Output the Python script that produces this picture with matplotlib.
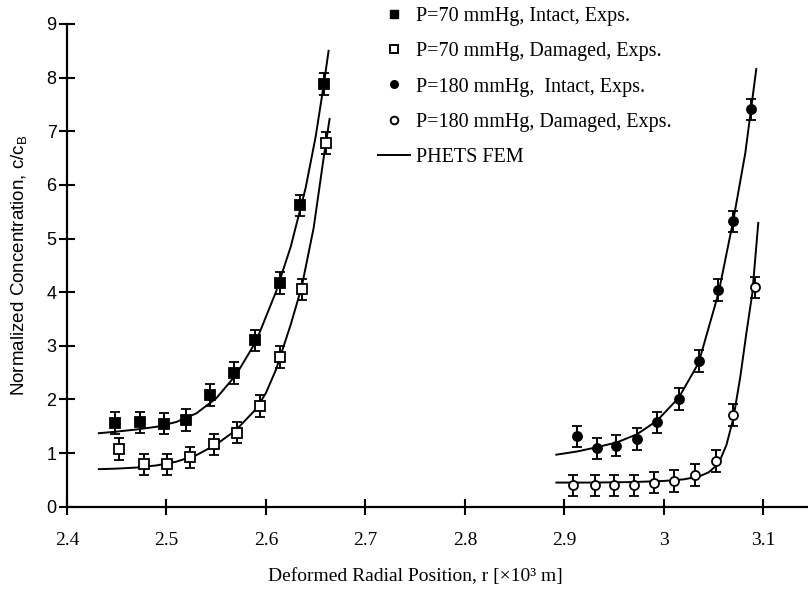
import matplotlib
matplotlib.use("Agg")
import matplotlib.pyplot as plt
from matplotlib.lines import Line2D

x70_int = [2.448, 2.473, 2.498, 2.520, 2.544, 2.568, 2.589, 2.614, 2.634, 2.658]
y70_int = [1.56, 1.57, 1.55, 1.62, 2.08, 2.49, 3.10, 4.17, 5.62, 7.88]

x70_dam = [2.452, 2.477, 2.501, 2.524, 2.548, 2.571, 2.594, 2.614, 2.636, 2.660]
y70_dam = [1.08, 0.79, 0.79, 0.92, 1.16, 1.38, 1.88, 2.79, 4.05, 6.78]

x180_int = [2.913, 2.933, 2.952, 2.973, 2.993, 3.015, 3.035, 3.055, 3.070, 3.088]
y180_int = [1.31, 1.09, 1.14, 1.26, 1.57, 2.01, 2.72, 4.04, 5.32, 7.41]

x180_dam = [2.909, 2.931, 2.950, 2.970, 2.990, 3.010, 3.031, 3.053, 3.070, 3.092]
y180_dam = [0.40, 0.40, 0.40, 0.40, 0.45, 0.48, 0.59, 0.85, 1.71, 4.09]

err = 0.2

# --- PHETS FEM curves ---
fem70_int_x = [2.432, 2.45, 2.47, 2.49, 2.51, 2.53, 2.55, 2.57, 2.59, 2.61,
               2.625, 2.64, 2.65, 2.658, 2.663]
fem70_int_y = [1.37, 1.40, 1.44, 1.49, 1.58, 1.74, 2.02, 2.46, 3.08, 4.00,
               4.85, 5.95, 6.90, 7.85, 8.50]

fem70_dam_x = [2.432, 2.45, 2.47, 2.49, 2.51, 2.53, 2.55, 2.57, 2.59, 2.60,
               2.61, 2.625, 2.636, 2.648, 2.658, 2.664]
fem70_dam_y = [0.70, 0.71, 0.73, 0.77, 0.84, 0.96, 1.16, 1.43, 1.82, 2.12,
               2.55, 3.40, 4.10, 5.20, 6.50, 7.23]

fem180_int_x = [2.892, 2.913, 2.933, 2.953, 2.973, 2.993, 3.015, 3.035, 3.055,
                3.070, 3.082, 3.093]
fem180_int_y = [0.97, 1.03, 1.11, 1.20, 1.35, 1.60, 2.03, 2.68, 3.98,
                5.35, 6.60, 8.16]

fem180_dam_x = [2.892, 2.93, 2.97, 3.00, 3.02, 3.035, 3.045, 3.055, 3.063,
                3.070, 3.077, 3.083, 3.089, 3.095]
fem180_dam_y = [0.45, 0.45, 0.46, 0.48, 0.51, 0.56, 0.64, 0.80, 1.15,
                1.65, 2.43, 3.23, 3.98, 5.29]

labels = ["P=70 mmHg, Intact, Exps.",
          "P=70 mmHg, Damaged, Exps.",
          "P=180 mmHg,  Intact, Exps.",
          "P=180 mmHg, Damaged, Exps.",
          "PHETS FEM"]

serif = "Liberation Serif"
sans = "Liberation Sans"

fig = plt.figure(figsize=(8.08, 5.99), dpi=100)
ax = fig.add_axes([67 / 808, 1 - 506.7 / 599, 1 - 67 / 808, (506.7 - 24) / 599])

# FEM lines
for fx, fy in [(fem70_int_x, fem70_int_y), (fem70_dam_x, fem70_dam_y),
               (fem180_int_x, fem180_int_y), (fem180_dam_x, fem180_dam_y)]:
    ax.plot(fx, fy, color="black", lw=1.4)

# experiments
style = dict(ls="none", ecolor="black", elinewidth=1.4, capsize=3.5,
             capthick=1.6, mec="black", mew=1.3, ms=6.5)
ax.errorbar(x70_int, y70_int, yerr=err, marker="s", mfc="black", **style)
ax.errorbar(x70_dam, y70_dam, yerr=err, marker="s", mfc="white", **style)
ax.errorbar(x180_int, y180_int, yerr=err, marker="o", mfc="black", **style)
ax.errorbar(x180_dam, y180_dam, yerr=err, marker="o", mfc="white", **style)

ax.set_xlim(2.4, 3.145)
ax.set_ylim(0, 9)
ax.set_xticks([2.4, 2.5, 2.6, 2.7, 2.8, 2.9, 3.0, 3.1])
ax.set_xticklabels(["2.4", "2.5", "2.6", "2.7", "2.8", "2.9", "3", "3.1"],
                   family=serif, fontsize=14)
ax.set_yticks(range(10))
ax.set_yticklabels([str(v) for v in range(10)], family=sans, fontsize=13)

ax.spines["top"].set_visible(False)
ax.spines["right"].set_visible(False)
ax.spines["left"].set_linewidth(1.6)
ax.spines["bottom"].set_linewidth(1.6)
ax.tick_params(axis="both", direction="inout", length=11, width=1.5)
ax.tick_params(axis="x", pad=13)
ax.tick_params(axis="y", pad=2)

ax.set_xlabel("Deformed Radial Position, r [×10³ m]", family=serif, fontsize=14)
ax.xaxis.set_label_coords(0.47, -0.128)
ax.set_ylabel(r"Normalized Concentration, c/c$_\mathregular{B}$", family=sans,
              fontsize=13.5)
ax.yaxis.set_label_coords(-0.05, 0.5)

handles = [
    Line2D([], [], ls="none", marker="s", ms=5.5, mfc="black", mec="black"),
    Line2D([], [], ls="none", marker="s", ms=5.5, mfc="white", mec="black", mew=1.4),
    Line2D([], [], ls="none", marker="o", ms=5.5, mfc="black", mec="black"),
    Line2D([], [], ls="none", marker="o", ms=5.5, mfc="white", mec="black", mew=1.4),
    Line2D([], [], color="black", lw=1.4),
]
fig.legend(handles, labels, loc="upper left",
           bbox_to_anchor=(378 / 808, 1 - 7 / 599),
           frameon=False, prop={"family": serif, "size": 14.5},
           handlelength=1.6, handletextpad=0.3, labelspacing=0.8,
           borderaxespad=0, borderpad=0)

fig.savefig("out.png", dpi=100)
